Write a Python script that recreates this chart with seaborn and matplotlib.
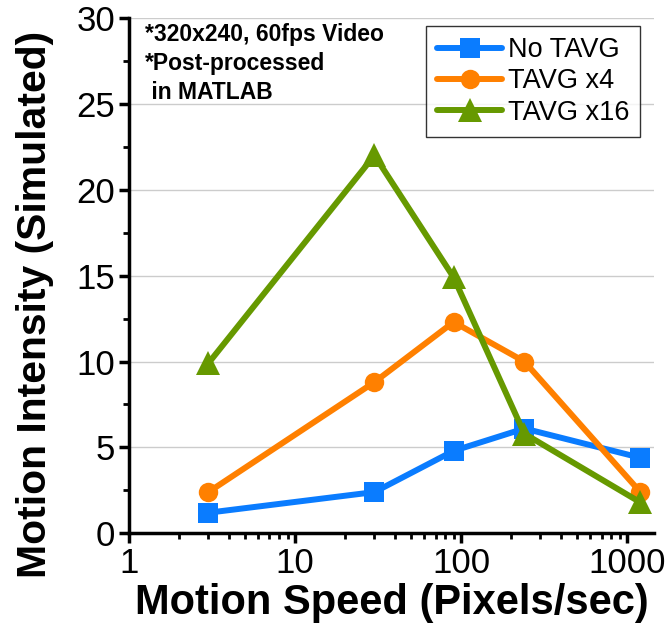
import matplotlib
matplotlib.use('Agg')
import matplotlib.pyplot as plt
import pandas as pd
import seaborn as sns

# Data
speeds = [3, 30, 90, 240, 1200]
no_tavg = [1.2, 2.4, 4.8, 6.1, 4.4]
tavg_x4 = [2.4, 8.8, 12.3, 10.0, 2.4]
tavg_x16 = [9.9, 22.0, 14.9, 5.8, 1.8]
series_names = ['No TAVG', 'TAVG x4', 'TAVG x16']

df = pd.DataFrame({
    'speed': speeds * 3,
    'intensity': no_tavg + tavg_x4 + tavg_x16,
    'series': [n for n in series_names for _ in speeds],
})

sns.set_style('white')
plt.rcParams['font.family'] = ['Liberation Sans', 'DejaVu Sans']
plt.rcParams['text.color'] = 'black'
plt.rcParams['axes.labelcolor'] = 'black'
plt.rcParams['xtick.color'] = 'black'
plt.rcParams['ytick.color'] = 'black'

palette = {'No TAVG': '#0a7cff', 'TAVG x4': '#ff8000', 'TAVG x16': '#669900'}
markers = {'No TAVG': 's', 'TAVG x4': 'o', 'TAVG x16': '^'}

fig = plt.figure(figsize=(6.66, 6.41), dpi=100)
ax = fig.add_axes([0.194, 0.168, 0.788, 0.804])

sns.lineplot(data=df, x='speed', y='intensity', hue='series', style='series',
             palette=palette, markers=markers, dashes=False, linewidth=4.3,
             markersize=14, markeredgewidth=0, ax=ax)

# triangles look a bit bigger in the original
for line in ax.lines:
    if line.get_marker() == '^':
        line.set_markersize(17)

ax.set_xscale('log')
ax.set_xlim(1, 1450)
ax.set_ylim(0, 30)
ax.set_yticks([0, 5, 10, 15, 20, 25, 30])
ax.set_yticks([2.5, 7.5, 12.5, 17.5, 22.5, 27.5], minor=True)
ax.set_xticks([1, 10, 100, 1000])
ax.set_xticklabels(['1', '10', '100', '1000'])
ax.yaxis.grid(True, color='#cccccc', linewidth=1)
ax.set_axisbelow(True)

for side in ['top', 'right']:
    ax.spines[side].set_visible(False)
for side in ['left', 'bottom']:
    ax.spines[side].set_linewidth(2.5)
    ax.spines[side].set_color('black')

ax.tick_params(which='major', direction='out', length=7, width=2.5, labelsize=25,
               left=True, bottom=True, pad=3)
ax.tick_params(which='minor', direction='out', length=4, width=2, left=True, bottom=True)

ax.set_xlabel('Motion Speed (Pixels/sec)', fontsize=30, fontweight='bold', labelpad=2)
ax.set_ylabel('Motion Intensity (Simulated)', fontsize=29.4, fontweight='bold')
ax.yaxis.set_label_coords(-0.143, 0.445)

ax.text(0.03, 0.99, '*320x240, 60fps Video\n*Post-processed\n in MATLAB',
        transform=ax.transAxes, fontsize=16.5, fontweight='bold', va='top', ha='left',
        linespacing=1.32)

leg = ax.legend(loc='upper right', bbox_to_anchor=(0.973, 0.984), fontsize=19.5,
                frameon=True, fancybox=False, handlelength=2.4, handletextpad=0.2,
                borderpad=0.4, labelspacing=0.2, borderaxespad=0)
leg.get_frame().set_edgecolor('black')
leg.get_frame().set_linewidth(1)
for h in leg.legend_handles:
    h.set_solid_capstyle('round')

fig.savefig('out.png', dpi=100)
